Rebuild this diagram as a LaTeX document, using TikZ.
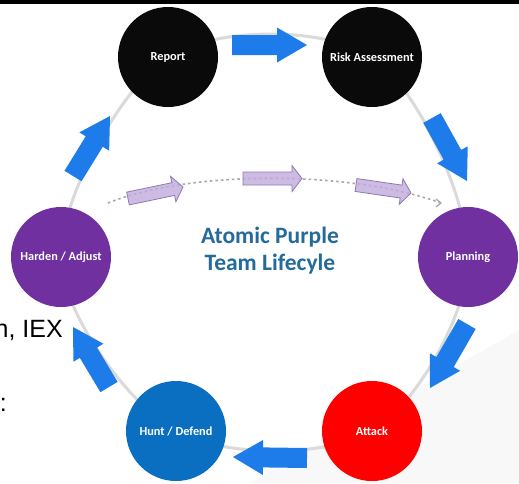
\documentclass[tikz,border=0pt]{standalone}
\usepackage{fontspec}
\setmainfont{Carlito}
\newfontfamily\slidefont{Liberation Sans}
\usetikzlibrary{calc}

\definecolor{ringgray}{HTML}{DADADA}
\definecolor{flowblue}{HTML}{1D7CEA}
\definecolor{stagepurple}{HTML}{7030A0}
\definecolor{stageblue}{HTML}{0A6FC0}
\definecolor{stagered}{HTML}{FF0000}
\definecolor{stageblack}{HTML}{0A0A0A}
\definecolor{titleblue}{HTML}{246B9C}
\definecolor{lilac}{HTML}{C2AADC}
\definecolor{lilacedge}{HTML}{8C7BB0}
\definecolor{dotgray}{HTML}{A8A8A8}
\definecolor{paleshade}{HTML}{F8F8F8}

% block arrow: #1 style, #2 start, #3 tip, #4 half shaft, #5 head length, #6 half head
\newcommand\blockarrow[6]{%
  \path coordinate (ba-neck) at ($(#3)!#5!(#2)$);
  \path[#1] ($(#2)!#4!90:(#3)$) -- ($(ba-neck)!#4!90:(#3)$)
    -- ($(ba-neck)!#6!90:(#3)$) -- (#3) -- ($(ba-neck)!#6!-90:(#3)$)
    -- ($(ba-neck)!#4!-90:(#3)$) -- ($(#2)!#4!-90:(#3)$) -- cycle;}

\begin{document}
\begin{tikzpicture}[x=1pt,y=-1pt,
  stage/.style={circle, minimum size=100pt, inner sep=0pt, text=white,
    font=\bfseries\fontsize{12.3}{14}\selectfont},
  flow/.style={fill=flowblue},
  minor/.style={fill=lilac, fill opacity=0.8, draw=lilacedge, line width=0.8pt, line join=miter},
  ring/.style={draw=ringgray, line width=3pt},
  trail/.style={draw=dotgray, line width=1.6pt, dash pattern=on 2.5pt off 3pt}]

\useasboundingbox (0,0) rectangle (519,483);
\fill[white] (0,0) rectangle (519,483);
\fill[paleshade] (250,483) -- (519,330) -- (519,483) -- cycle;
\fill[black] (0,0) rectangle (519,3.5);

% ring behind the stages
\draw[ring] plot[smooth cycle, tension=0.55] coordinates
  {(168,57) (372,57) (468,257) (372,431) (176,431) (61,257)};

% stages
\node[stage, fill=stageblack]  (report)   at (168,57)  {Report};
\node[stage, fill=stageblack]  (risk)     at (372,57)  {Risk Assessment};
\node[stage, fill=stagepurple] (planning) at (468,257) {Planning};
\node[stage, fill=stagered]    (attack)   at (372,431) {Attack};
\node[stage, fill=stageblue]   (hunt)     at (176,431) {Hunt / Defend};
\node[stage, fill=stagepurple] (harden)   at (61,257)  {Harden / Adjust};

% flow arrows between stages
\coordinate (f1s) at (232,45);  \coordinate (f1e) at (307,45);
\coordinate (f2s) at (432,118); \coordinate (f2e) at (467,181);
\coordinate (f3s) at (467,324); \coordinate (f3e) at (430,388);
\coordinate (f4s) at (307,458); \coordinate (f4e) at (233,457);
\coordinate (f5s) at (109,387); \coordinate (f5e) at (73,327);
\coordinate (f6s) at (73,176);  \coordinate (f6e) at (110,116);
\blockarrow{flow}{f1s}{f1e}{10pt}{30pt}{17.5pt}
\blockarrow{flow}{f2s}{f2e}{10pt}{30pt}{17.5pt}
\blockarrow{flow}{f3s}{f3e}{10pt}{30pt}{17.5pt}
\blockarrow{flow}{f4s}{f4e}{10pt}{30pt}{17.5pt}
\blockarrow{flow}{f5s}{f5e}{10pt}{30pt}{17.5pt}
\blockarrow{flow}{f6s}{f6e}{10pt}{30pt}{17.5pt}

% dotted trail across the middle
\coordinate (t0) at (108,203);
\coordinate (t1) at (441,203);
\draw[trail] (t0) .. controls (190,170) and (350,170) .. (t1);
\draw[dotgray, line width=1.2pt] (436,199) -- (441,203) -- (436,207);

% small arrows on the trail
\coordinate (p1s) at (128,198.5); \coordinate (p1e) at (183,187);
\coordinate (p2s) at (243,178.5); \coordinate (p2e) at (302,178.5);
\coordinate (p3s) at (356,185);   \coordinate (p3e) at (411,193);
\blockarrow{minor}{p1s}{p1e}{6.5pt}{10pt}{13pt}
\blockarrow{minor}{p2s}{p2e}{6.5pt}{10pt}{13pt}
\blockarrow{minor}{p3s}{p3e}{6.5pt}{10pt}{13pt}

% title
\node[text=titleblue, align=center, font=\bfseries\fontsize{23.5}{27}\selectfont]
  (title) at (270,251) {Atomic Purple\\Team Lifecyle};

% leftover slide text at the left edge
\node[anchor=base east, inner sep=0pt, font=\slidefont\fontsize{25}{25}\selectfont]
  (txtA) at (63,337) {n, IEX};
\node[anchor=base east, inner sep=0pt, font=\slidefont\fontsize{25}{25}\selectfont]
  (txtB) at (7,411) {:};
\end{tikzpicture}
\end{document}
